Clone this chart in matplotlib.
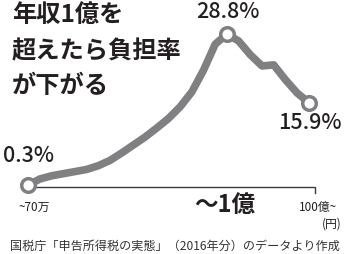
import matplotlib
matplotlib.use("Agg")
import matplotlib.pyplot as plt
import matplotlib.transforms as mtransforms

plt.rcParams['font.family'] = ['Noto Sans CJK JP', 'DejaVu Sans']

# ---- data ----
categories = ['~70万', '100万', '150万', '200万', '250万', '300万', '400万', '500万',
              '600万', '700万', '800万', '1000万', '1200万', '1500万', '2000万', '3000万',
              '5000万', '1億', '2億', '5億', '10億', '20億', '50億', '100億', '100億~']
burden = [0.3, 1.5, 2.1, 2.5, 2.9, 3.3, 4.0, 5.0, 6.4, 7.9, 9.4, 11.1, 12.9, 15.1,
          17.9, 22.0, 26.9, 28.8, 27.5, 24.9, 22.8, 23.0, 20.2, 17.7, 15.9]
marked_idx = [0, 17, 24]
tick_labels = {0: '~70万', 17: '〜1億', 24: '100億~'}

W, H = 345, 254
fig = plt.figure(figsize=(W / 100, H / 100), dpi=100)
ax = fig.add_axes([0, 0, 1, 1])
ax.set_xlim(-2.393, 27.09)
ax.set_ylim(-12.62, 35.22)
ax.axis('off')

gray = '#808083'
dark = '#231f20'

xs = list(range(len(burden)))

# baseline with end tick
ax.plot([xs[0], xs[-1] + 0.55, xs[-1] + 0.55], [0, 0, -1.1], color='#3a3a3a',
        lw=1.0, solid_joinstyle='miter', zorder=1)

ax.plot(xs, burden, color=gray, lw=5.5, solid_joinstyle='round',
        solid_capstyle='round', zorder=2)
ax.plot([xs[i] for i in marked_idx], [burden[i] for i in marked_idx], 'o',
        ms=9.8, mfc='white', mec=gray, mew=2.5, zorder=3)

# value labels
offsets = {0: (0.7, 21), 17: (0.7, 15.8), 24: (0.7, -15)}
for i in marked_idx:
    ax.annotate(f'{burden[i]:.1f}%', (xs[i], burden[i]), xytext=offsets[i],
                textcoords='offset points', ha='center', va='center',
                fontsize=15.5, fontweight='medium', color=dark)

# x labels
bt = mtransforms.blended_transform_factory(ax.transData, fig.transFigure)
ax.text(xs[0] + 0.5, 1 - 207 / H, tick_labels[0], transform=bt, ha='center',
        va='center', fontsize=8.5, color=dark)
ax.text(xs[17] - 0.15, 1 - 205 / H, tick_labels[17], transform=bt, ha='center',
        va='center', fontsize=17, fontweight='bold', color=dark)
ax.text(xs[24] + 0.75, 1 - 207 / H, tick_labels[24], transform=bt, ha='center',
        va='center', fontsize=8.5, color=dark)
ax.text(342 / W, 1 - 224 / H, '(円)', transform=fig.transFigure, ha='right',
        va='center', fontsize=8.5, color=dark)

# title
title_lines = ['年収1億を', '超えたら負担率', 'が下がる']
title_y = [15, 51, 86]
for t, y in zip(title_lines, title_y):
    fig.text(12 / W, 1 - y / H, t, ha='left', va='center', fontsize=17.5,
             fontweight='bold', color=dark)

# source
fig.text(175 / W, 1 - 246 / H, '国税庁「申告所得税の実態」（2016年分）のデータより作成',
         ha='center', va='center', fontsize=8.7, color='#333333')

fig.savefig('out.png', dpi=100)
